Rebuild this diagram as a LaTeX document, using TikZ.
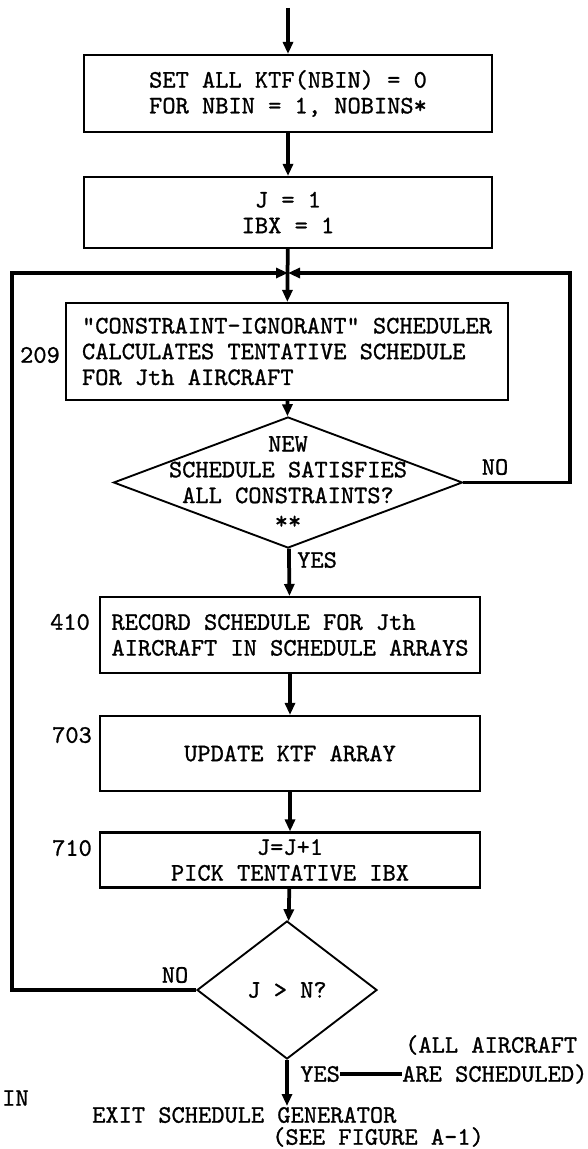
\documentclass[tikz,border=0pt]{standalone}
\usepackage{fontspec}
\setmonofont{lmmono10-regular}[Extension=.otf, FakeBold=1]
\usetikzlibrary{shapes.geometric,arrows.meta}
\begin{document}
\begin{tikzpicture}[x=0.03cm, y=-0.03cm,
    font=\ttfamily\fontsize{21.5}{22}\selectfont,
    procbox/.style={draw, line width=1.8pt, align=center, inner sep=0pt},
    decision/.style={diamond, draw, line width=1.6pt, inner sep=0pt},
    flow/.style={line width=3.2pt, -{Triangle[length=0.36cm, width=0.3cm]}},
    link/.style={line width=3.2pt},
    tag/.style={inner sep=0pt}]
    \useasboundingbox (0,0) rectangle (587,1149);

    % Entry and initialisation
    \coordinate (start) at (288,8);
    \node[procbox, minimum width=12.24cm, minimum height=2.31cm] (init) at (288,93.5)
        {SET ALL KTF(NBIN) = 0\\FOR NBIN = 1, NOBINS*};
    \node[procbox, minimum width=12.24cm, minimum height=2.13cm] (setj) at (288,212.5)
        {J = 1\\IBX = 1};

    % Head of the aircraft loop
    \coordinate (join) at (288,273);
    \node[procbox, align=left, minimum width=13.26cm, minimum height=2.91cm] (sched) at (287,351.5)
        {"CONSTRAINT-IGNORANT" SCHEDULER\\CALCULATES TENTATIVE SCHEDULE\\FOR Jth AIRCRAFT};
    \node[tag] (l209) at (40,355) {209};

    % Constraint test
    \node[decision, minimum width=10.47cm, minimum height=3.93cm] (check) at (288,482.5) {};
    \node[tag, align=center] (checktxt) at (288,482.5)
        {NEW\\SCHEDULE SATISFIES\\ALL CONSTRAINTS?\\**};
    \node[tag] (no1) at (495,467) {NO};
    \node[tag, anchor=west] (yes1) at (297,560) {YES};
    \coordinate (rturn) at (570,482.5);

    % Record, update, next aircraft
    \node[procbox, align=left, minimum width=11.4cm, minimum height=2.28cm] (record) at (290,635)
        {RECORD SCHEDULE FOR Jth\\AIRCRAFT IN SCHEDULE ARRAYS};
    \node[tag] (l410) at (70,622) {410};
    \node[procbox, minimum width=11.4cm, minimum height=2.25cm] (update) at (290,753.5)
        {UPDATE KTF ARRAY};
    \node[tag] (l703) at (72,735) {703};
    \node[procbox, minimum width=11.4cm, minimum height=1.65cm] (nextj) at (290,860)
        {J=J+1\\PICK TENTATIVE IBX};
    \node[tag] (l710) at (72,848) {710};

    % End test
    \node[decision, minimum width=5.4cm, minimum height=4.14cm] (done) at (287,990) {};
    \node[tag] (donetxt) at (287,990) {J > N?};
    \node[tag] (no2) at (175,975) {NO};
    \coordinate (lturn) at (12,990);
    \node[tag, anchor=west] (yes2) at (300,1074) {YES};
    \node[tag, anchor=west] (allac) at (405,1045) {(ALL AIRCRAFT};
    \node[tag, anchor=west] (aresch) at (402,1074) {ARE SCHEDULED)};
    \coordinate (stop) at (287,1106);

    % Exit
    \node[tag, anchor=west] (cut) at (2,1098) {IN};
    \node[tag, anchor=west] (exit) at (92,1115) {EXIT SCHEDULE GENERATOR};
    \node[tag, anchor=west] (seefig) at (272,1137) {(SEE FIGURE A-1)};

    % Main flow
    \draw[flow] (start) -- (init);
    \draw[flow] (init) -- (setj);
    \draw[flow] (setj) -- (sched);
    \draw[flow] (sched) -- (check);
    \draw[flow] (check) -- (record);
    \draw[flow] (record) -- (update);
    \draw[flow] (update) -- (nextj);
    \draw[flow] (nextj) -- (done);
    \draw[flow] (done) -- (stop);

    % Loop back branches
    \draw[flow] (check.east) -- (rturn) |- (join);
    \draw[flow] (done.west) -- (lturn) |- (join);
    \draw[link] (yes2) -- (aresch);
\end{tikzpicture}
\end{document}
